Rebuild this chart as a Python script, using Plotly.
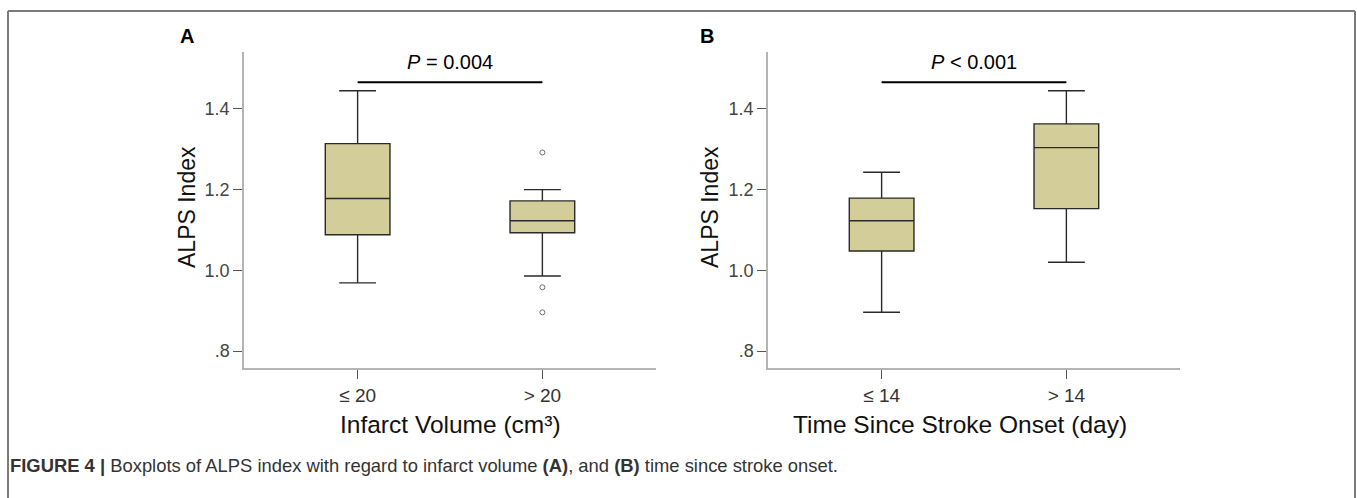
import plotly.graph_objects as go

W, H = 1357, 498

# ---- Panel A: infarct volume ----
cats_a = ["≤ 20", "> 20"]
q1_a = [1.088, 1.093]
med_a = [1.178, 1.123]
q3_a = [1.314, 1.172]
lo_a = [0.969, 0.986]
hi_a = [1.445, 1.200]
out_a_x = ["> 20", "> 20", "> 20"]
out_a_y = [1.292, 0.958, 0.896]
p_a = "<i>P</i> = 0.004"

# ---- Panel B: time since stroke onset ----
cats_b = ["≤ 14", "> 14"]
q1_b = [1.048, 1.153]
med_b = [1.123, 1.304]
q3_b = [1.179, 1.363]
lo_b = [0.896, 1.020]
hi_b = [1.243, 1.445]
p_b = "<i>P</i> < 0.001"

sig_bar_y = 1.466
p_text_y = 1.515

ytick_vals = [0.8, 1.0, 1.2, 1.4]
ytick_text = [".8", "1.0", "1.2", "1.4"]

BOX_FILL = "rgb(211,206,153)"
BOX_LINE = "#2a2a2a"
FONT = "Liberation Sans, Arial, sans-serif"

fig = go.Figure()

def add_box(cats, q1, med, q3, lo, hi, xa, ya):
    fig.add_trace(go.Box(
        x=cats, q1=q1, median=med, q3=q3, lowerfence=lo, upperfence=hi,
        xaxis=xa, yaxis=ya, width=0.35, whiskerwidth=0.57,
        fillcolor=BOX_FILL, line=dict(color=BOX_LINE, width=1.4),
        boxpoints=False, showlegend=False, hoverinfo="skip"))

add_box(cats_a, q1_a, med_a, q3_a, lo_a, hi_a, "x", "y")
add_box(cats_b, q1_b, med_b, q3_b, lo_b, hi_b, "x2", "y2")

fig.add_trace(go.Scatter(
    x=out_a_x, y=out_a_y, xaxis="x", yaxis="y", mode="markers",
    marker=dict(symbol="circle-open", size=5, color="#707070", line=dict(width=1)),
    showlegend=False, hoverinfo="skip"))

xr = [-0.615, 1.615]
yr = [0.758, 1.541]
ydom = [1 - 368 / H, 1 - 52 / H]

xcommon = dict(type="category", range=xr, showline=True, linecolor="#b4b4b4", linewidth=1.5,
               ticks="outside", ticklen=9, tickcolor="#555", tickwidth=1,
               showgrid=False, zeroline=False,
               tickfont=dict(family=FONT, size=19, color="#333"))
ycommon = dict(range=yr, domain=ydom, showline=True, linecolor="#b4b4b4", linewidth=1.5,
               ticks="outside", ticklen=9, tickcolor="#555", tickwidth=1,
               tickvals=ytick_vals, ticktext=ytick_text,
               showgrid=False, zeroline=False,
               tickfont=dict(family=FONT, size=18, color="#444"))

fig.update_layout(
    width=W, height=H, margin=dict(l=0, r=0, t=0, b=0),
    paper_bgcolor="white", plot_bgcolor="white",
    xaxis=dict(domain=[244 / W, 656 / W], anchor="y", **xcommon),
    yaxis=dict(anchor="x", **ycommon),
    xaxis2=dict(domain=[768 / W, 1180 / W], anchor="y2", **xcommon),
    yaxis2=dict(anchor="x2", **ycommon),
)

# significance bars
for xa, ya, cats in (("x", "y", cats_a), ("x2", "y2", cats_b)):
    fig.add_shape(type="line", xref=xa, yref=ya, x0=cats[0], x1=cats[1],
                  y0=sig_bar_y, y1=sig_bar_y, line=dict(color="black", width=2))

C = dict(xanchor="center", yanchor="middle", showarrow=False)
ann = []
ann.append(dict(xref="x", yref="y", x=0.5, y=p_text_y, text=p_a,
                font=dict(family=FONT, size=20, color="black"), **C))
ann.append(dict(xref="x2", yref="y2", x=0.5, y=p_text_y, text=p_b,
                font=dict(family=FONT, size=20, color="black"), **C))
# panel letters
ann.append(dict(xref="paper", yref="paper", x=187 / W, y=1 - 36 / H, text="<b>A</b>",
                font=dict(family=FONT, size=20, color="black"), **C))
ann.append(dict(xref="paper", yref="paper", x=707 / W, y=1 - 36 / H, text="<b>B</b>",
                font=dict(family=FONT, size=20, color="black"), **C))
# axis titles
for xc, t in ((450, "Infarct Volume (cm³)"), (960, "Time Since Stroke Onset (day)")):
    ann.append(dict(xref="paper", yref="paper", x=xc / W, y=1 - 424 / H, text=t,
                    font=dict(family=FONT, size=24.5, color="#111"), **C))
for xc in (187, 710):
    ann.append(dict(xref="paper", yref="paper", x=xc / W, y=1 - 207 / H, text="ALPS Index",
                    textangle=-90, font=dict(family=FONT, size=23, color="#111"), **C))
# caption
ann.append(dict(xref="paper", yref="paper", x=8 / W, y=1 - 465 / H, xanchor="left", yanchor="middle",
                showarrow=False,
                text="<b>FIGURE 4 |</b> Boxplots of ALPS index with regard to infarct volume <b>(A)</b>, and <b>(B)</b> time since stroke onset.",
                font=dict(family=FONT, size=18.4, color="#333")))
fig.update_layout(annotations=ann)

# figure frame (open at bottom)
fc = dict(color="#7a7a7a", width=2)
fig.add_shape(type="line", xref="paper", yref="paper", x0=8 / W, x1=8 / W, y0=0, y1=1 - 11 / H, line=fc)
fig.add_shape(type="line", xref="paper", yref="paper", x0=8 / W, x1=1355 / W, y0=1 - 11 / H, y1=1 - 11 / H, line=fc)
fig.add_shape(type="line", xref="paper", yref="paper", x0=1355 / W, x1=1355 / W, y0=0, y1=1 - 11 / H, line=fc)

fig.write_html("out.html")
